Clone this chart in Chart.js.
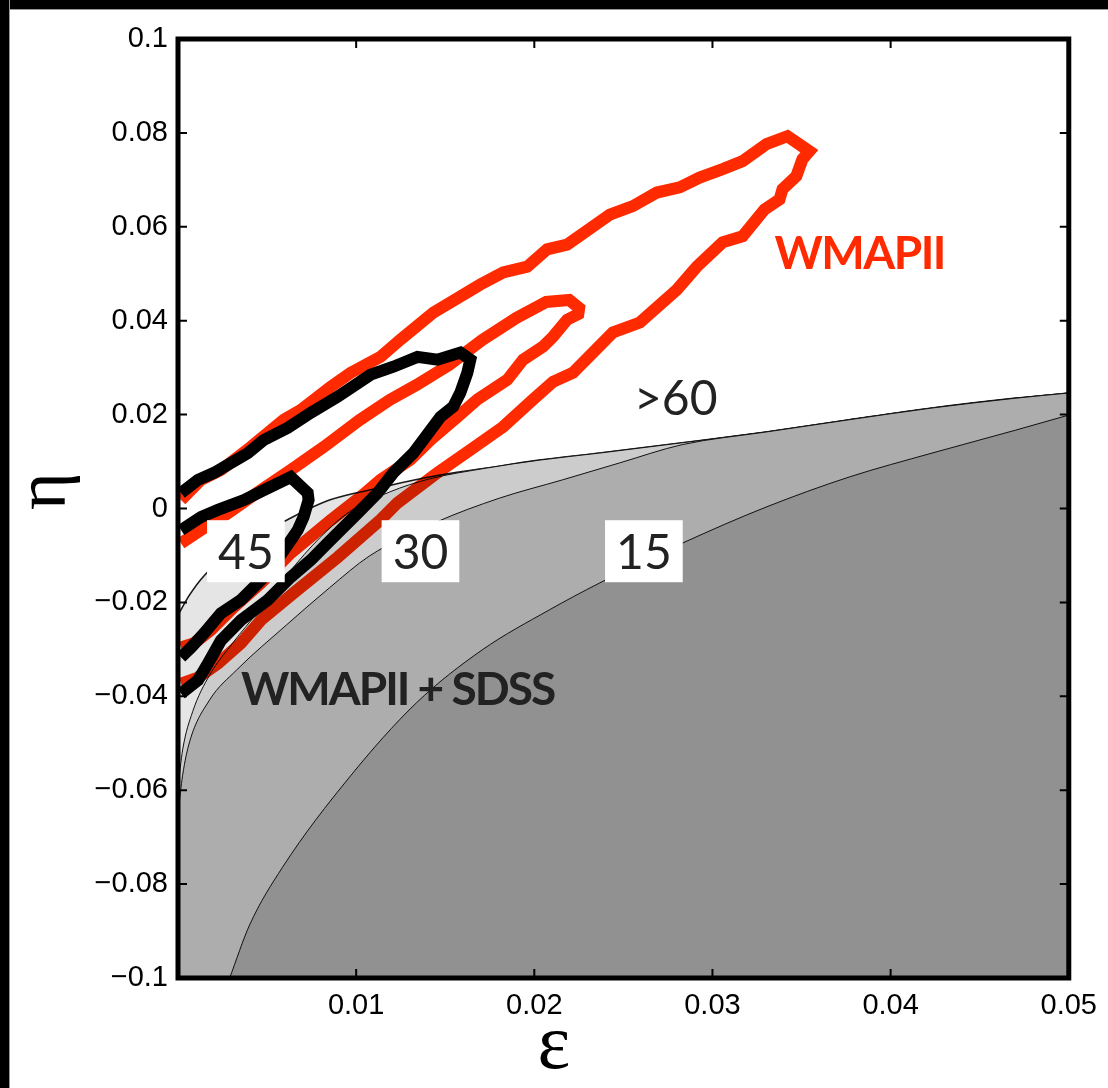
<!DOCTYPE html>
<html>
<head>
<meta charset="utf-8">
<script src="https://cdn.jsdelivr.net/npm/chart.js@4.4.1/dist/chart.umd.min.js"></script>
<style>
  html, body { margin: 0; padding: 0; background: #fff; }
  #wrap { position: relative; width: 1108px; height: 1088px; overflow: hidden; }
  #wrap canvas { position: absolute; left: 0; top: 0; }
  .bar { position: absolute; background: #000; }
  #bar-top { left: 0; top: 0; width: 1108px; height: 9px; border-bottom: 1px solid #999; }
  #bar-left { left: 0; top: 0; width: 9px; height: 1088px; border-right: 1px solid #999; }
</style>
</head>
<body>
<div id="wrap">
  <canvas id="chart" width="1108" height="1088"></canvas>
  <div class="bar" id="bar-top"></div>
  <div class="bar" id="bar-left"></div>
</div>
<script>
// ---------- data: [epsilon, eta] ----------
// e-fold contours of the model (N = 60, 45, 30, 15)
const n60 = [
  [0, -0.0227], [0.00065, -0.0184], [0.00149, -0.0142], [0.00345, -0.0078], [0.00587, -0.0029],
  [0.0085, 0.0018], [0.01131, 0.0044], [0.01411, 0.0067], [0.01731, 0.0086], [0.02028, 0.0103],
  [0.02365, 0.0118], [0.0283, 0.0140], [0.03301, 0.0163], [0.03767, 0.0189], [0.04232, 0.0214],
  [0.04703, 0.0235], [0.05, 0.0246],
];
const n45 = [
  [0, -0.0593], [0.00026, -0.0514], [0.00082, -0.0433], [0.00177, -0.0355], [0.00306, -0.0287],
  [0.00458, -0.0216], [0.00626, -0.0135], [0.00794, -0.0063], [0.00962, -0.0007], [0.01187, 0.0035],
  [0.01411, 0.0063], [0.01731, 0.0086], [0.02028, 0.0103], [0.02365, 0.0118], [0.0283, 0.0140],
  [0.03301, 0.0163], [0.03767, 0.0189], [0.04232, 0.0214], [0.04703, 0.0235], [0.05, 0.0246],
];
const n30 = [
  [0, -0.0649], [0.00026, -0.0568], [0.00065, -0.0497], [0.00177, -0.0408], [0.00329, -0.0344],
  [0.00609, -0.0248], [0.0085, -0.0169], [0.01075, -0.0101], [0.0145, -0.0029], [0.01804, 0.0022],
  [0.02158, 0.0061], [0.02478, 0.0097], [0.0283, 0.0136], [0.03301, 0.0163], [0.03767, 0.0189],
  [0.04232, 0.0214], [0.04703, 0.0235], [0.05, 0.0246],
];
const n15 = [
  [0.0029, -0.1], [0.00402, -0.0887], [0.00587, -0.0764], [0.00963, -0.0572], [0.01338, -0.0414],
  [0.01708, -0.0301], [0.02084, -0.0216], [0.02365, -0.0159], [0.0283, -0.0074], [0.03301, 0.0003],
  [0.03767, 0.0067], [0.04232, 0.0118], [0.04703, 0.0167], [0.05, 0.0199],
];

// WMAP alone: 95% and 68% regions
const wmapOuter = [
  [0.00017, 0.0018], [0.00129, 0.0061], [0.00241, 0.0082], [0.00409, 0.0131], [0.00594, 0.0189],
  [0.00689, 0.0210], [0.00857, 0.0259], [0.00969, 0.0289], [0.01137, 0.0323], [0.01249, 0.0360],
  [0.01433, 0.0417], [0.01697, 0.0477], [0.01825, 0.0503], [0.01960, 0.0515], [0.02072, 0.0552],
  [0.02184, 0.0562], [0.02424, 0.0626], [0.02553, 0.0644], [0.02688, 0.0673], [0.02816, 0.0684],
  [0.02928, 0.0705], [0.03057, 0.0723], [0.03169, 0.0740], [0.03303, 0.0776], [0.03421, 0.0793],
  [0.03544, 0.0761], [0.03505, 0.0744], [0.03471, 0.0708], [0.03393, 0.0680], [0.03376, 0.0658],
  [0.03292, 0.0637], [0.03169, 0.0580], [0.03057, 0.0567], [0.02912, 0.0515], [0.02800, 0.0466],
  [0.02592, 0.0396], [0.02441, 0.0375], [0.02217, 0.0289], [0.02105, 0.0270], [0.01993, 0.0232],
  [0.01825, 0.0174], [0.01641, 0.0125], [0.01456, 0.0076], [0.01232, 0.0012], [0.01137, -0.0024],
  [0.00896, -0.0104], [0.00649, -0.0180], [0.00465, -0.0238], [0.00353, -0.0287], [0.00224, -0.0330],
  [0.00112, -0.0360], [0.00017, -0.0373],
];
const wmapInner = [
  [0.00017, -0.0074], [0.00129, -0.0046], [0.00280, -0.0010], [0.00465, 0.0039], [0.00633, 0.0082],
  [0.00818, 0.0131], [0.01018, 0.0188], [0.01187, 0.0231], [0.01338, 0.0263], [0.01523, 0.0306],
  [0.01708, 0.0359], [0.01899, 0.0406], [0.02067, 0.0440], [0.02196, 0.0444], [0.02252, 0.0427],
  [0.02247, 0.0414], [0.02184, 0.0402], [0.02105, 0.0366], [0.02049, 0.0345], [0.01937, 0.0317],
  [0.01848, 0.0274], [0.01680, 0.0232], [0.01568, 0.0195], [0.01417, 0.0146], [0.01305, 0.0104],
  [0.01137, 0.0061], [0.01025, 0.0025], [0.00857, -0.0025], [0.00633, -0.0095], [0.00465, -0.0159],
  [0.00314, -0.0210], [0.00185, -0.0259], [0.00090, -0.0287], [0.00017, -0.0296],
];

// WMAP + SDSS: 95% and 68% regions
const sdssOuter = [
  [0.00017, 0.0033], [0.00112, 0.0061], [0.00202, 0.0076], [0.00392, 0.0118], [0.00482, 0.0146],
  [0.00616, 0.0172], [0.00745, 0.0204], [0.00896, 0.0238], [0.01081, 0.0285], [0.01209, 0.0302],
  [0.01344, 0.0323], [0.01456, 0.0317], [0.01585, 0.0332], [0.01641, 0.0317], [0.01624, 0.0289],
  [0.01585, 0.0247], [0.01545, 0.0217], [0.01473, 0.0195], [0.01377, 0.0146], [0.01321, 0.0118],
  [0.01209, 0.0076], [0.01120, 0.0033], [0.01008, -0.0010], [0.00857, -0.0067], [0.00745, -0.0110],
  [0.00633, -0.0146], [0.00504, -0.0195], [0.00353, -0.0238], [0.00241, -0.0281], [0.00168, -0.0330],
  [0.00112, -0.0366], [0.00017, -0.0394],
];
const sdssInner = [
  [0.00017, -0.0046], [0.00129, -0.0018], [0.00224, -0.0003], [0.00370, 0.0018], [0.00482, 0.0039],
  [0.00633, 0.0067], [0.00728, 0.0033], [0.00733, 0.0018], [0.00705, -0.0018], [0.00672, -0.0046],
  [0.00594, -0.0089], [0.00493, -0.0142], [0.00353, -0.0195], [0.00241, -0.0223], [0.00146, -0.0266],
  [0.00073, -0.0296], [0.00017, -0.0317],
];

// contour labels and dataset names, anchored in (epsilon, eta)
const LABELS = [
  { text: "45", at: [0.00381, -0.0091], box: true },
  { text: "30", at: [0.01361, -0.0091], box: true },
  { text: "15", at: [0.02615, -0.0091], box: true },
  { text: ">60", at: [0.02794, 0.0236], box: true },
];
const NAMES = [
  { text: "WMAPII", at: [0.03348, 0.0541], color: "#ff2a00", spacing: "-1.5px" },
  { text: "WMAPII + SDSS", at: [0.00353, -0.0387], color: "#222222", spacing: "-2px" },
];

// ---------- helpers ----------
const RED = "#ff2a00";
const SERIF = "'Liberation Serif', 'DejaVu Serif', serif";
const SANS = "Lato, 'Open Sans', sans-serif";
const pts = (arr) => arr.map(([x, y]) => ({ x, y }));

function band(data, color, order, edge = "#111", width = 1) {
  return {
    data: pts(data), showLine: true, pointRadius: 0, cubicInterpolationMode: "monotone",
    borderColor: edge, borderWidth: width, backgroundColor: color, fill: "start", order,
  };
}
function contour(data, color, order, blend) {
  return {
    data: pts(data), showLine: true, pointRadius: 0, tension: 0,
    borderColor: color, borderWidth: 12, fill: false, order, blend,
  };
}
function fmt(v) {
  const r = Math.round(v * 100) / 100;
  if (r === 0) return "0";
  return r < 0 ? "\u2212" + String(-r) : String(r);
}

// red contours are multiplied into the grey bands underneath
const blendPlugin = {
  id: "blend",
  beforeDatasetDraw(chart, args) {
    const ds = chart.data.datasets[args.index];
    if (ds.blend) { chart.ctx.save(); chart.ctx.globalCompositeOperation = ds.blend; }
  },
  afterDatasetDraw(chart, args) {
    if (chart.data.datasets[args.index].blend) chart.ctx.restore();
  },
};

const notesPlugin = {
  id: "notes",
  afterDatasetsDraw(chart) {
    const { ctx, chartArea: a, scales: { x, y } } = chart;
    ctx.save();
    ctx.textBaseline = "middle";
    ctx.textAlign = "center";
    ctx.font = "48px " + SANS;
    for (const l of LABELS) {
      const px = x.getPixelForValue(l.at[0]);
      const py = y.getPixelForValue(l.at[1]);
      const w = ctx.measureText(l.text).width + 22;
      if (l.box) { ctx.fillStyle = "#fff"; ctx.fillRect(px - w / 2, py - 31, w, 62); }
      ctx.fillStyle = "#222";
      ctx.fillText(l.text, px, py + 2);
    }
    ctx.textAlign = "left";
    ctx.font = "bold 46px " + SANS;
    for (const t of NAMES) {
      ctx.letterSpacing = t.spacing;
      ctx.fillStyle = t.color;
      ctx.fillText(t.text, x.getPixelForValue(t.at[0]), y.getPixelForValue(t.at[1]));
    }
    ctx.letterSpacing = "0px";

    // axis symbols
    ctx.fillStyle = "#000";
    ctx.textAlign = "center";
    ctx.font = "78px " + SERIF;
    ctx.fillText("\u03b5", x.getPixelForValue(0.0211), a.bottom + 70);
    ctx.save();
    ctx.translate(a.left - 132, y.getPixelForValue(0.0037));
    ctx.rotate(-Math.PI / 2);
    ctx.font = "72px " + SERIF;
    ctx.fillText("\u03b7", 0, 0);
    ctx.restore();
    ctx.restore();
  },
};

// heavy box round the axes with inward ticks on all four sides
const framePlugin = {
  id: "frame",
  afterDraw(chart) {
    const { ctx, chartArea: a, scales: { x, y } } = chart;
    ctx.save();
    ctx.strokeStyle = "#000";
    ctx.lineWidth = 2;
    ctx.beginPath();
    for (const t of x.ticks) {
      const px = x.getPixelForValue(t.value);
      ctx.moveTo(px, a.bottom); ctx.lineTo(px, a.bottom - 9);
      ctx.moveTo(px, a.top); ctx.lineTo(px, a.top + 9);
    }
    for (const t of y.ticks) {
      const py = y.getPixelForValue(t.value);
      ctx.moveTo(a.left, py); ctx.lineTo(a.left + 9, py);
      ctx.moveTo(a.right, py); ctx.lineTo(a.right - 9, py);
    }
    ctx.stroke();
    ctx.lineWidth = 5;
    ctx.lineJoin = "miter";
    ctx.strokeRect(a.left, a.top, a.right - a.left, a.bottom - a.top);
    ctx.restore();
  },
};

// ---------- chart ----------
Chart.defaults.font.family = "'Liberation Sans', Arial, sans-serif";
Chart.defaults.color = "#000";

new Chart(document.getElementById("chart"), {
  type: "scatter",
  data: {
    datasets: [
      contour(sdssInner, "#000", 0),
      contour(sdssOuter, "#000", 1),
      contour(wmapInner, RED, 2, "multiply"),
      contour(wmapOuter, RED, 3, "multiply"),
      band(n15, "#919191", 7),
      band(n30, "#adadad", 8),
      band(n45, "#cccccc", 9),
      band(n60, "#e5e5e5", 10, "#1a1a1a", 1.6),
    ],
  },
  options: {
    responsive: false,
    animation: false,
    layout: { padding: { top: 39, right: 38, left: 0, bottom: 0 } },
    plugins: { legend: { display: false }, tooltip: { enabled: false } },
    scales: {
      x: {
        type: "linear", min: 0, max: 0.05,
        grid: { display: false, drawTicks: false },
        border: { display: false },
        ticks: {
          stepSize: 0.01, padding: 11, maxRotation: 0,
          font: { size: 29 },
          callback: (v) => (Math.abs(v) < 1e-9 ? "" : fmt(v)),
        },
        afterFit: (s) => { s.height = 110; },
      },
      y: {
        type: "linear", min: -0.1, max: 0.1,
        grid: { display: false, drawTicks: false },
        border: { display: false },
        ticks: { stepSize: 0.02, padding: 10, font: { size: 29 }, callback: (v) => fmt(v) },
        afterFit: (s) => { s.width = 178; },
      },
    },
  },
  plugins: [blendPlugin, notesPlugin, framePlugin],
});
</script>
</body>
</html>
